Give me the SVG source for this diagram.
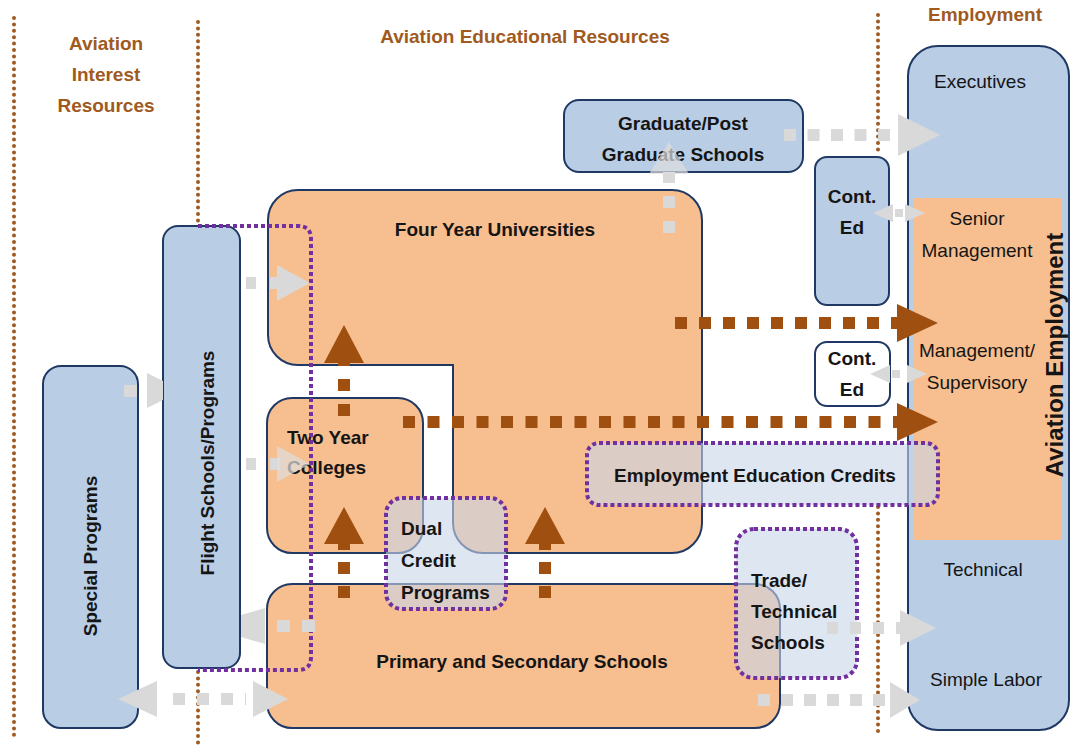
<svg xmlns="http://www.w3.org/2000/svg" width="1074" height="747" viewBox="0 0 1074 747">
<style>
.bb{fill:#b9cde5;stroke:#1f3864;stroke-width:2}
.bo{fill:#f7be8f;stroke:#1f3864;stroke-width:2}
.bw{fill:#ffffff;stroke:#1f3864;stroke-width:2}
.pu{fill:#c8d6ea;fill-opacity:.6;stroke:#7030a0;stroke-width:4;stroke-dasharray:4 3}
.pl{fill:none;stroke:#7030a0;stroke-width:4;stroke-dasharray:4 3}
.sep{fill:none;stroke:#9e5a22;stroke-width:4;stroke-linecap:round;stroke-dasharray:0 6.4}
.t{font-family:"Liberation Sans",Arial,sans-serif;font-size:19px;fill:#151515}
.c{text-anchor:middle}
.b{font-weight:bold}
.h{font-family:"Liberation Sans",Arial,sans-serif;font-size:19px;font-weight:bold;fill:#a05a1e;text-anchor:middle}
.brl{fill:none;stroke:#9f4f0f;stroke-width:12}
.brh{fill:#9f4f0f}
.gl{fill:none;stroke:#d9d9d9;stroke-width:12}
.gh{fill:#d9d9d9}
.ght{fill:#dedede;fill-opacity:.7}
</style>
<g id="separators">
<path class="sep" d="M14,18 V738"/>
<path class="sep" d="M198,22 V224 M198,672 V745"/>
<path class="sep" d="M878,15 V155 M878,507 V733"/>
</g>
<g id="headers">
<text class="h" x="106" y="50">Aviation</text>
<text class="h" x="106" y="81">Interest</text>
<text class="h" x="106" y="112">Resources</text>
<text class="h" x="525" y="43">Aviation Educational Resources</text>
<text class="h" x="985" y="21">Employment</text>
</g>
<g id="employment">
<rect class="bb" x="908" y="46" width="161" height="684" rx="30"/>
<rect x="913" y="198" width="149" height="342" fill="#f7be8f"/>
<text class="t c" x="980" y="88">Executives</text>
<text class="t c" x="977" y="225">Senior</text>
<text class="t c" x="977" y="257">Management</text>
<text class="t c" x="977" y="357">Management/</text>
<text class="t c" x="977" y="389">Supervisory</text>
<text class="t c" x="983" y="576">Technical</text>
<text class="t c" x="986" y="686">Simple Labor</text>
<text class="t c b" style="font-size:24px" x="1054" y="363.5" transform="rotate(-90 1054 355)">Aviation Employment</text>
</g>
<g id="special-programs">
<rect class="bb" x="43" y="366" width="95" height="362" rx="18"/>
<text class="t c b" x="90" y="562.5" transform="rotate(-90 90 556)">Special Programs</text>
</g>
<g id="graduate">
<rect class="bb" x="564" y="100" width="239" height="72" rx="15"/>
<text class="t c b" x="683" y="130">Graduate/Post</text>
<text class="t c b" x="683" y="161">Graduate Schools</text>
</g>
<g id="four-year">
<path class="bo" d="M298,190 H672 A30,30 0 0 1 702,220 V523 A30,30 0 0 1 672,553 H483 A30,30 0 0 1 453,523 V365 H298 A30,30 0 0 1 268,335 V220 A30,30 0 0 1 298,190 Z"/>
<text class="t c b" x="495" y="236">Four Year Universities</text>
</g>
<g id="two-year">
<rect class="bo" x="267" y="398" width="156" height="155" rx="25"/>
<text class="t b" x="287" y="444">Two Year</text>
<text class="t b" x="287" y="474">Colleges</text>
</g>
<g id="primary-secondary">
<rect class="bo" x="267" y="584" width="513" height="144" rx="25"/>
<text class="t c b" x="522" y="668">Primary and Secondary Schools</text>
</g>
<g id="flight-schools">
<rect class="bb" x="163" y="226" width="77" height="442" rx="15"/>
<text class="t c b" x="207" y="469.5" transform="rotate(-90 207 463)">Flight Schools/Programs</text>
<path class="pl" d="M198,226 H298 Q311,226 311,239 V657 Q311,670 298,670 H198"/>
</g>
<g id="cont-ed-1">
<rect class="bb" x="815" y="157" width="74" height="148" rx="12"/>
<text class="t c b" x="852" y="203">Cont.</text>
<text class="t c b" x="852" y="234">Ed</text>
</g>
<g id="cont-ed-2">
<rect class="bw" x="815" y="342" width="75" height="64" rx="12"/>
<text class="t c b" x="852" y="365">Cont.</text>
<text class="t c b" x="852" y="396">Ed</text>
</g>
<g id="dual-credit">
<rect class="pu" x="386" y="498" width="120" height="111" rx="16"/>
<text class="t b" x="401" y="535">Dual</text>
<text class="t b" x="401" y="567">Credit</text>
<text class="t b" x="401" y="599">Programs</text>
</g>
<g id="employment-education-credits">
<rect class="pu" x="587" y="443" width="351" height="62" rx="12"/>
<text class="t c b" x="755" y="482">Employment Education Credits</text>
</g>
<g id="trade-technical">
<rect class="pu" x="736" y="529" width="121" height="149" rx="18"/>
<text class="t b" x="751" y="587">Trade/</text>
<text class="t b" x="751" y="618">Technical</text>
<text class="t b" x="751" y="649">Schools</text>
</g>
<g id="connectors">
<path class="brl" d="M344,416 V362" stroke-dasharray="12 13"/>
<polygon class="brh" points="344,325 364,363 324,363"/>
<path class="brl" d="M344,598 V543" stroke-dasharray="12 12"/>
<polygon class="brh" points="344,507 364,544 324,544"/>
<path class="brl" d="M545,598 V543" stroke-dasharray="12 12"/>
<polygon class="brh" points="545,507 565,544 525,544"/>
<path class="brl" d="M403,422 H898" stroke-dasharray="12 12.5"/>
<polygon class="brh" points="897,403 938,422 897,441"/>
<path class="brl" d="M675,323 H898" stroke-dasharray="12 12"/>
<polygon class="brh" points="897,304 938,323 897,342"/>
<path class="gl" d="M784,135 H902" stroke-dasharray="12 11.5"/>
<polygon class="gh" points="898,114 940,135 898,156"/>
<path class="gl" d="M669,233 V172" stroke-dasharray="12 13"/>
<polygon class="ght" points="669,142 689,174 649,174"/>
<polygon class="gh" points="873,213 893,204 893,222"/>
<path class="gl" d="M895,213 H905" style="stroke-width:8" stroke-dasharray="8 4"/>
<polygon class="gh" points="905,204 925,213 905,222"/>
<polygon class="gh" points="870,374 890,365 890,383"/>
<path class="gl" d="M892,374 H902" style="stroke-width:8" stroke-dasharray="8 4"/>
<polygon class="gh" points="907,365 927,374 907,383"/>
<path class="gl" d="M246,283 H280" stroke-dasharray="10 14"/>
<polygon class="gh" points="277,265 310,283 277,301"/>
<path class="gl" d="M246,464 H280" stroke-dasharray="10 14"/>
<polygon class="ght" points="277,446 310,464 277,482"/>
<path class="gl" d="M124,391 H150" stroke-dasharray="13 11"/>
<polygon class="gh" points="147,373 163,381 163,400 147,408"/>
<path class="gl" d="M315,626 H262" stroke-dasharray="13 12"/>
<polygon class="gh" points="265,608 265,644 241,637 241,615"/>
<polygon class="gh" points="118,699 157,681 157,717"/>
<path class="gl" d="M173,699 H246" stroke-dasharray="12 12"/>
<polygon class="gh" points="253,681 288,699 253,717"/>
<path class="gl" d="M827,628 H902" stroke-dasharray="11 12"/>
<polygon class="gh" points="900,610 936,628 900,646"/>
<path class="gl" d="M758,700 H893" stroke-dasharray="12 11"/>
<polygon class="gh" points="890,682 920,700 890,718"/>
</g>
</svg>
